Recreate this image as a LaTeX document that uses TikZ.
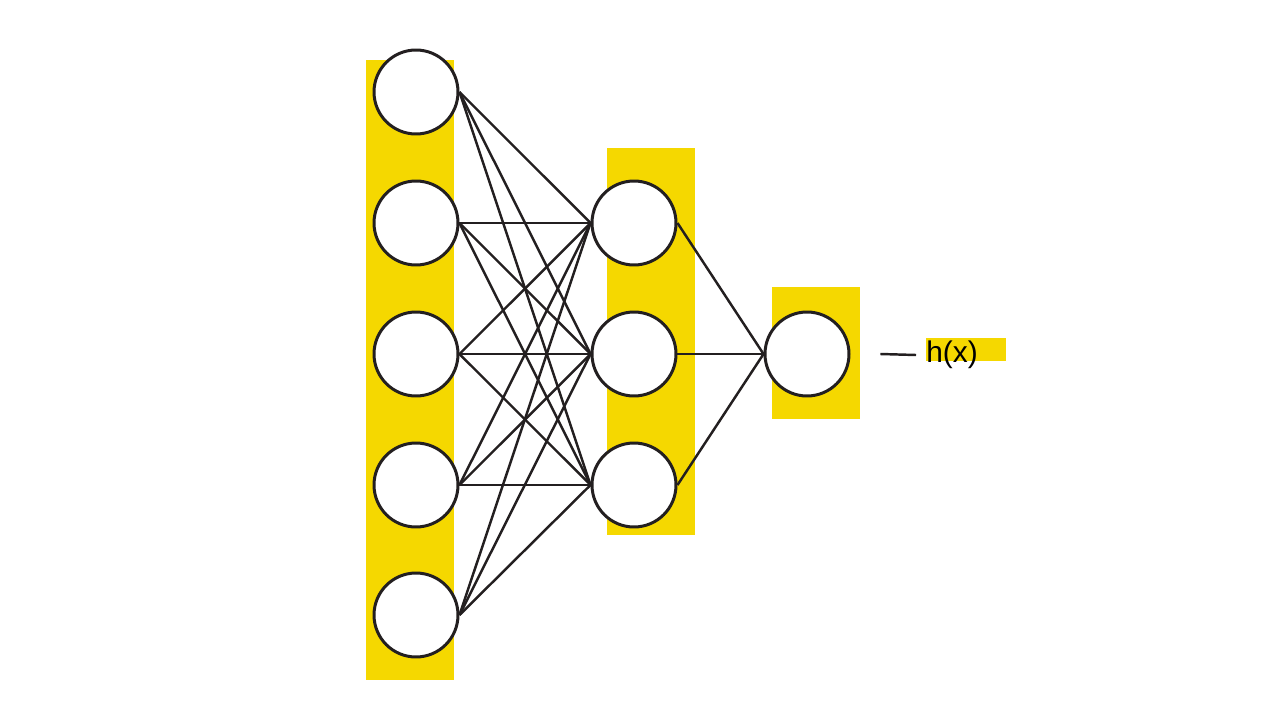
\documentclass[tikz,border=0pt]{standalone}
\usepackage{fontspec}
\setmainfont{Liberation Sans}
\usetikzlibrary{positioning}
\definecolor{netyellow}{HTML}{F5D800}
\definecolor{netline}{HTML}{231F20}
\begin{document}
\begin{tikzpicture}[x=0.02cm, y=-0.02cm,
    neuron/.style={draw=netline, circle, fill=white, line width=1.7pt, minimum size=1.68cm, inner sep=0pt},
    link/.style={draw=netline, line width=1.4pt}]
			\useasboundingbox (0,0) rectangle (1280,720);

			% Layer backgrounds
			\fill[netyellow] (366,60) rectangle (454,680);
			\fill[netyellow] (607,148) rectangle (695,535);
			\fill[netyellow] (772,287) rectangle (860,419);
			\fill[netyellow] (926,338) rectangle (1006,361);

			% Input layer
			\node (i1) [neuron] at (416,92) {};
			\node (i2) [neuron] at (416,223) {};
			\node (i3) [neuron] at (416,354) {};
			\node (i4) [neuron] at (416,485) {};
			\node (i5) [neuron] at (416,615) {};

			% Hidden layer
			\node (h1) [neuron] at (634,223) {};
			\node (h2) [neuron] at (634,354) {};
			\node (h3) [neuron] at (634,485) {};

			% Output layer
			\node (o1) [neuron] at (807,354) {};

			% Connections
			\foreach \i in {1,...,5}
				\foreach \j in {1,2,3}
					\draw[link] (i\i.east) -- (h\j.west);
			\foreach \j in {1,2,3}
				\draw[link] (h\j.east) -- (o1.west);

			\coordinate (out) at (916,355);
			\draw[link] (o1.east) ++(17pt,0) coordinate (oe) (oe) -- (out);
			\node (hx) [right=0.2cm of out, inner sep=0pt, font=\fontsize{17}{20}\selectfont] {h(x)};

		\end{tikzpicture}
\end{document}
